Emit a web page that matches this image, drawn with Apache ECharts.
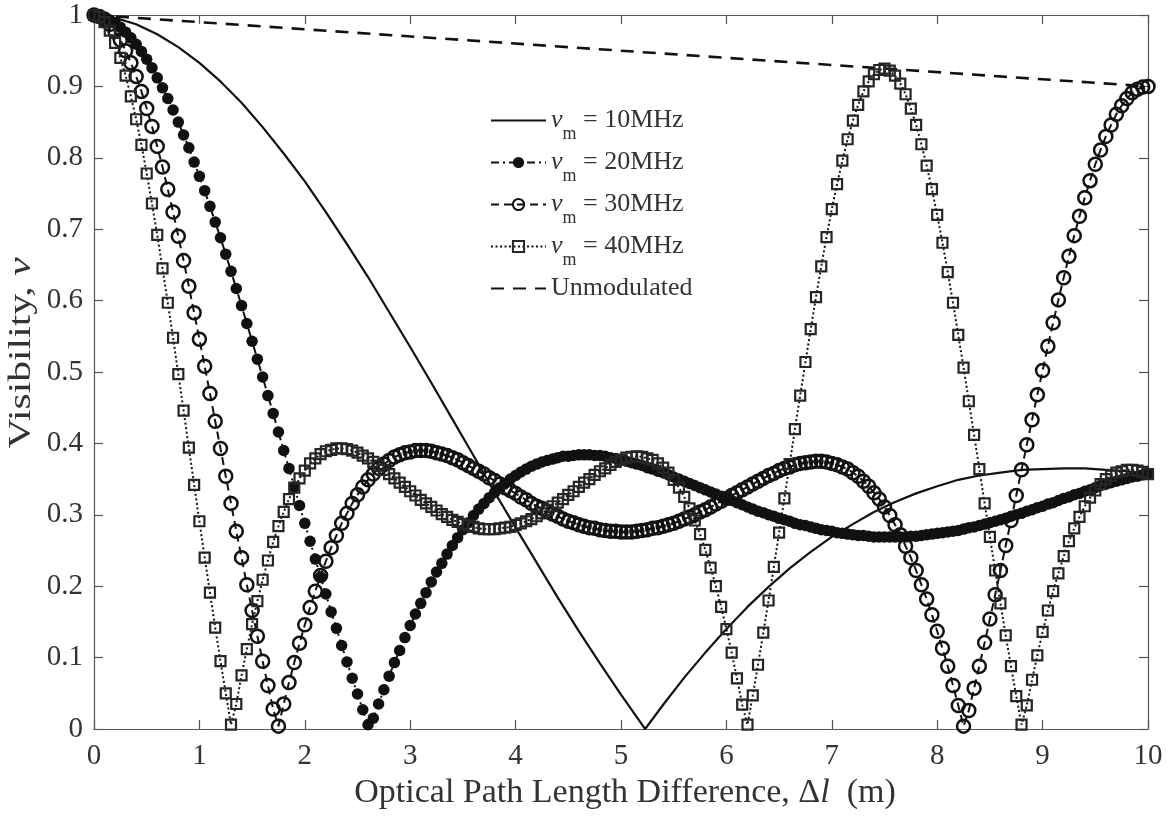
<!DOCTYPE html>
<html><head><meta charset="utf-8">
<script src="https://cdn.jsdelivr.net/npm/echarts@6/dist/echarts.min.js"></script>
<style>html,body{margin:0;padding:0;background:#fff}#c{width:1169px;height:818px}</style>
</head><body><div id="c"></div>
<script>
// ---------------- data ----------------
const SERIES_NAMES = ['10MHz', '20MHz', '30MHz', '40MHz', 'Unmodulated'];
const X_TICKS = ['0','1','2','3','4','5','6','7','8','9','10'];
const Y_TICKS = ['0','0.1','0.2','0.3','0.4','0.5','0.6','0.7','0.8','0.9','1'];
const X_TITLE = 'Optical Path Length Difference, {d|Δ}{i|l}  (m)';
const Y_TITLE = 'Visibility, {i|ν}';

// sample positions (m) of the marker curves
const X = [0,0.05,0.1,0.15,0.2,0.25,0.3,0.35,0.4,0.45,0.5,0.55,0.6,0.65,0.7,0.75,0.8,0.85,0.9,0.95,
1,1.05,1.1,1.15,1.2,1.25,1.3,1.35,1.4,1.45,1.5,1.55,1.6,1.65,1.7,1.75,1.8,1.85,1.9,1.95,
2,2.05,2.1,2.15,2.2,2.25,2.3,2.35,2.4,2.45,2.5,2.55,2.6,2.65,2.7,2.75,2.8,2.85,2.9,2.95,
3,3.05,3.1,3.15,3.2,3.25,3.3,3.35,3.4,3.45,3.5,3.55,3.6,3.65,3.7,3.75,3.8,3.85,3.9,3.95,
4,4.05,4.1,4.15,4.2,4.25,4.3,4.35,4.4,4.45,4.5,4.55,4.6,4.65,4.7,4.75,4.8,4.85,4.9,4.95,
5,5.05,5.1,5.15,5.2,5.25,5.3,5.35,5.4,5.45,5.5,5.55,5.6,5.65,5.7,5.75,5.8,5.85,5.9,5.95,
6,6.05,6.1,6.15,6.2,6.25,6.3,6.35,6.4,6.45,6.5,6.55,6.6,6.65,6.7,6.75,6.8,6.85,6.9,6.95,
7,7.05,7.1,7.15,7.2,7.25,7.3,7.35,7.4,7.45,7.5,7.55,7.6,7.65,7.7,7.75,7.8,7.85,7.9,7.95,
8,8.05,8.1,8.15,8.2,8.25,8.3,8.35,8.4,8.45,8.5,8.55,8.6,8.65,8.7,8.75,8.8,8.85,8.9,8.95,
9,9.05,9.1,9.15,9.2,9.25,9.3,9.35,9.4,9.45,9.5,9.55,9.6,9.65,9.7,9.75,9.8,9.85,9.9,9.95,10];

// nu_m = 10 MHz (solid line, no markers)
const X10 = [0,0.2,0.4,0.6,0.8,1,1.2,1.4,1.6,1.8,2,2.2,2.4,2.6,2.8,3,3.2,3.4,3.6,3.8,4,4.2,4.4,4.6,4.8,5,5.2,5.229,
5.4,5.6,5.8,6,6.2,6.4,6.6,6.8,7,7.2,7.4,7.6,7.8,8,8.2,8.4,8.6,8.8,9,9.2,9.4,9.6,9.8,10];
const V10 = [1.000,0.996,0.987,0.973,0.955,0.933,0.907,0.877,0.843,0.806,0.767,0.724,0.679,0.633,0.584,0.535,0.485,0.434,0.383,0.332,
0.282,0.233,0.184,0.137,0.092,0.048,0.006,0,0.034,0.072,0.107,0.140,0.171,0.199,0.225,0.248,0.269,0.287,0.304,0.318,
0.330,0.340,0.349,0.355,0.359,0.363,0.364,0.365,0.365,0.363,0.361,0.357];

// nu_m = 20 MHz (filled circles)
const V20 = [1.000,0.999,0.997,0.993,0.989,0.983,0.976,0.968,0.959,0.949,
0.938,0.926,0.912,0.898,0.883,0.867,0.850,0.832,0.814,0.794,
0.774,0.754,0.732,0.710,0.688,0.665,0.641,0.617,0.593,0.568,
0.543,0.518,0.493,0.467,0.442,0.416,0.390,0.365,0.339,0.313,
0.288,0.263,0.238,0.213,0.189,0.164,0.141,0.117,0.094,0.071,
0.049,0.027,0.006,0.015,0.035,0.055,0.074,0.093,0.110,0.128,
0.145,0.161,0.176,0.191,0.206,0.220,0.232,0.245,0.257,0.268,
0.279,0.289,0.299,0.308,0.316,0.324,0.331,0.338,0.344,0.350,
0.355,0.360,0.364,0.368,0.371,0.374,0.376,0.378,0.380,0.382,
0.382,0.383,0.384,0.384,0.384,0.383,0.383,0.382,0.380,0.379,
0.377,0.375,0.373,0.371,0.369,0.366,0.364,0.361,0.359,0.356,
0.353,0.350,0.347,0.344,0.341,0.338,0.335,0.332,0.329,0.326,
0.323,0.320,0.317,0.314,0.311,0.308,0.305,0.303,0.300,0.298,
0.295,0.293,0.291,0.288,0.286,0.285,0.283,0.281,0.279,0.278,
0.277,0.275,0.274,0.273,0.272,0.271,0.271,0.270,0.269,0.269,
0.269,0.269,0.269,0.269,0.269,0.270,0.270,0.271,0.272,0.273,
0.274,0.275,0.276,0.277,0.278,0.280,0.282,0.283,0.285,0.287,
0.289,0.291,0.293,0.295,0.298,0.300,0.302,0.305,0.307,0.310,
0.312,0.315,0.317,0.320,0.323,0.325,0.328,0.330,0.333,0.335,
0.338,0.341,0.343,0.345,0.347,0.349,0.351,0.353,0.354,0.356,
0.357];

// nu_m = 30 MHz (open circles)
const V30 = [1.000,0.998,0.994,0.987,0.977,0.965,0.950,0.933,0.914,0.893,
0.869,0.844,0.816,0.787,0.756,0.724,0.690,0.656,0.620,0.583,
0.546,0.508,0.470,0.431,0.393,0.354,0.316,0.277,0.240,0.202,
0.166,0.130,0.095,0.061,0.028,0.004,0.035,0.065,0.093,0.120,
0.146,0.170,0.193,0.215,0.235,0.254,0.271,0.288,0.302,0.316,
0.328,0.339,0.349,0.357,0.365,0.371,0.376,0.381,0.384,0.387,
0.388,0.390,0.390,0.390,0.389,0.387,0.385,0.383,0.380,0.377,
0.373,0.369,0.365,0.361,0.357,0.352,0.348,0.343,0.338,0.334,
0.330,0.325,0.321,0.316,0.312,0.309,0.305,0.301,0.298,0.294,
0.291,0.289,0.286,0.284,0.282,0.281,0.279,0.278,0.277,0.277,
0.276,0.276,0.276,0.277,0.278,0.279,0.281,0.282,0.284,0.286,
0.288,0.291,0.294,0.297,0.300,0.304,0.307,0.311,0.315,0.319,
0.323,0.327,0.331,0.335,0.339,0.343,0.347,0.351,0.355,0.358,
0.362,0.365,0.367,0.370,0.372,0.373,0.374,0.375,0.375,0.374,
0.372,0.370,0.367,0.364,0.359,0.354,0.347,0.340,0.331,0.322,
0.311,0.299,0.286,0.272,0.256,0.240,0.222,0.202,0.182,0.160,
0.137,0.113,0.088,0.061,0.033,0.004,0.026,0.057,0.088,0.121,
0.154,0.188,0.222,0.257,0.292,0.327,0.363,0.398,0.433,0.468,
0.502,0.536,0.569,0.601,0.632,0.662,0.691,0.718,0.744,0.768,
0.791,0.811,0.830,0.846,0.861,0.873,0.883,0.891,0.896,0.899,
0.900];

// nu_m = 40 MHz (squares)
const V40 = [1.000,0.997,0.990,0.978,0.961,0.940,0.915,0.886,0.854,0.818,
0.778,0.736,0.692,0.645,0.597,0.548,0.497,0.446,0.394,0.342,
0.291,0.240,0.191,0.142,0.095,0.050,0.006,0.035,0.075,0.112,
0.147,0.179,0.209,0.236,0.262,0.284,0.304,0.322,0.338,0.351,
0.362,0.372,0.379,0.385,0.389,0.391,0.393,0.393,0.392,0.390,
0.387,0.383,0.379,0.374,0.369,0.363,0.357,0.351,0.345,0.339,
0.333,0.327,0.321,0.316,0.311,0.306,0.301,0.297,0.293,0.290,
0.287,0.285,0.283,0.281,0.280,0.280,0.280,0.281,0.282,0.283,
0.286,0.288,0.291,0.294,0.298,0.302,0.307,0.312,0.317,0.322,
0.328,0.333,0.339,0.345,0.350,0.356,0.361,0.365,0.370,0.374,
0.377,0.380,0.381,0.382,0.381,0.379,0.377,0.372,0.366,0.359,
0.349,0.338,0.325,0.309,0.292,0.273,0.251,0.226,0.200,0.171,
0.140,0.107,0.071,0.034,0.006,0.047,0.090,0.135,0.180,0.227,
0.275,0.323,0.371,0.420,0.467,0.514,0.560,0.605,0.648,0.689,
0.728,0.763,0.796,0.826,0.852,0.874,0.893,0.907,0.917,0.923,
0.925,0.922,0.915,0.904,0.889,0.869,0.846,0.819,0.789,0.756,
0.720,0.681,0.640,0.597,0.552,0.506,0.459,0.412,0.364,0.316,
0.269,0.222,0.176,0.131,0.088,0.046,0.006,0.033,0.069,0.103,
0.136,0.166,0.193,0.218,0.242,0.263,0.281,0.297,0.312,0.324,
0.334,0.343,0.350,0.355,0.359,0.361,0.363,0.363,0.362,0.360,
0.357];

// unmodulated (dashed straight line)
const XU = [0, 10];
const VU = [1.0, 0.9];

// ---------------- chart ----------------
const FONT = '"Liberation Serif","Times New Roman",serif';
const AXIS_COLOR = '#555';
const TEXT_COLOR = '#333';
const INK = '#111';
function pairs(xs, ys) { return xs.map(function (x, i) { return [x, ys[i]]; }); }

const chart = echarts.init(document.getElementById('c'), null, { renderer: 'canvas' });

const axisCommon = {
  type: 'value',
  axisLine: { show: true, onZero: false, lineStyle: { color: AXIS_COLOR, width: 1.2 } },
  axisTick: { show: true, inside: true, length: 9, lineStyle: { color: AXIS_COLOR, width: 1.2 } },
  splitLine: { show: false },
  minorTick: { show: false }
};

chart.setOption({
  animation: false,
  backgroundColor: '#fff',
  grid: { left: 94, right: 21, top: 15, bottom: 89, containLabel: false },
  xAxis: [
    Object.assign({}, axisCommon, {
      position: 'bottom', min: 0, max: 10, interval: 1,
      axisLabel: { show: true, margin: 13, color: TEXT_COLOR, fontFamily: FONT, fontSize: 29,
        formatter: function (v) { return X_TICKS[Math.round(v)]; } },
      name: X_TITLE,
      nameLocation: 'middle', nameGap: 33,
      nameTextStyle: { color: TEXT_COLOR, fontFamily: FONT, fontSize: 34, padding: [0, 0, 0, 8],
        rich: { d: { fontFamily: FONT, fontSize: 34, color: TEXT_COLOR },
                i: { fontFamily: FONT, fontSize: 34, fontStyle: 'italic', color: TEXT_COLOR } } }
    }),
    Object.assign({}, axisCommon, {
      position: 'top', min: 0, max: 10, interval: 1, axisLabel: { show: false }
    })
  ],
  yAxis: [
    Object.assign({}, axisCommon, {
      position: 'left', min: 0, max: 1, interval: 0.1,
      axisLabel: { show: true, margin: 11, color: TEXT_COLOR, fontFamily: FONT, fontSize: 29,
        formatter: function (v) { return Y_TICKS[Math.round(v * 10)]; } }
    }),
    Object.assign({}, axisCommon, {
      position: 'right', min: 0, max: 1, interval: 0.1, axisLabel: { show: false }
    })
  ],
  graphic: [
    {
      type: 'text', x: 22, y: 353, rotation: Math.PI / 2, scaleX: 1.3, scaleY: 1,
      silent: true,
      style: {
        text: Y_TITLE, fill: TEXT_COLOR, font: '32px ' + FONT,
        align: 'center', verticalAlign: 'middle',
        rich: { i: { fontFamily: FONT, fontSize: 32, fontStyle: 'italic', fill: TEXT_COLOR } }
      }
    }
  ],
  legend: {
    show: true,
    orient: 'vertical',
    left: 490, top: 98, padding: 0,
    itemWidth: 55, itemHeight: 14, itemGap: -3,
    data: [
      { name: SERIES_NAMES[0], itemStyle: { opacity: 0 } },
      SERIES_NAMES[1], SERIES_NAMES[2], SERIES_NAMES[3],
      { name: SERIES_NAMES[4], itemStyle: { opacity: 0 } }
    ],
    formatter: function (name) {
      if (name === 'Unmodulated') return '{t|Unmodulated}{s| }';
      return '{n|ν}{s|m}{t| = ' + name + '}';
    },
    textStyle: {
      color: TEXT_COLOR, fontFamily: FONT, fontSize: 26,
      rich: {
        n: { fontFamily: FONT, fontSize: 26, fontStyle: 'italic', color: TEXT_COLOR, lineHeight: 26 },
        s: { fontFamily: FONT, fontSize: 18, color: TEXT_COLOR, lineHeight: 18, padding: [27, 0, 0, 0] },
        t: { fontFamily: FONT, fontSize: 26, color: TEXT_COLOR, lineHeight: 26 }
      }
    }
  },
  series: [
    {
      name: SERIES_NAMES[0], type: 'line', data: pairs(X10, V10),
      symbol: 'none', showSymbol: false,
      lineStyle: { color: INK, width: 2.2, type: 'solid' },
      itemStyle: { color: INK }, z: 3
    },
    {
      name: SERIES_NAMES[1], type: 'line', data: pairs(X, V20),
      symbol: 'circle', symbolSize: 11.5, showSymbol: true,
      lineStyle: { color: INK, width: 2, type: [8, 4, 2, 4] },
      itemStyle: { color: INK, borderColor: INK, borderWidth: 0 }, z: 4
    },
    {
      name: SERIES_NAMES[2], type: 'line', data: pairs(X, V30),
      symbol: 'circle', symbolSize: 13, showSymbol: true,
      lineStyle: { color: INK, width: 2, type: [8, 5] },
      itemStyle: { color: 'rgba(255,255,255,0)', borderColor: INK, borderWidth: 2.5 }, z: 5
    },
    {
      name: SERIES_NAMES[3], type: 'line', data: pairs(X, V40),
      symbol: 'rect', symbolSize: 10, showSymbol: true,
      lineStyle: { color: INK, width: 2, type: [2, 2.5] },
      itemStyle: { color: 'rgba(255,255,255,0)', borderColor: '#262626', borderWidth: 2.2 }, z: 6
    },
    {
      name: SERIES_NAMES[4], type: 'line', data: pairs(XU, VU),
      symbol: 'none', showSymbol: false,
      lineStyle: { color: INK, width: 2.6, type: [13, 9] },
      itemStyle: { color: INK }, z: 2
    }
  ]
});
</script>
</body></html>
